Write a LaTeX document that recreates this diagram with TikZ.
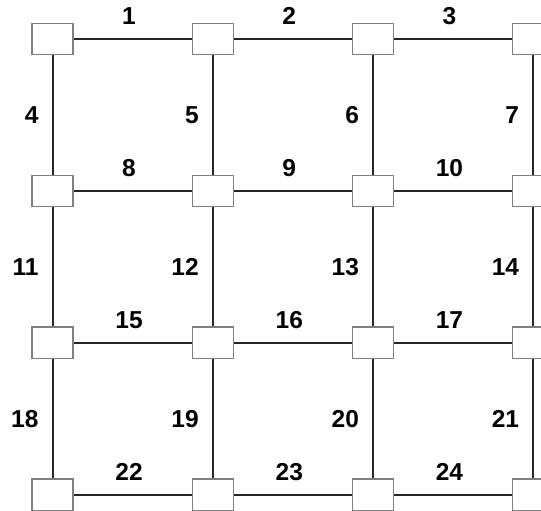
\documentclass[tikz,border=0pt]{standalone}
\usepackage{fontspec}
\setmainfont{Liberation Sans}
\usetikzlibrary{positioning}

\begin{document}
\begin{tikzpicture}[
    node distance=119.2pt and 118pt,
    cell/.style={rectangle, draw=black!50, line width=1.2pt, fill=white, minimum width=41pt, minimum height=31.5pt, inner sep=0pt},
    link/.style={draw=black!85, line width=2pt},
    hlab/.style={above=13pt, pos=0.47, inner sep=0pt, font=\fontsize{24.5}{28}\selectfont\bfseries},
    vlab/.style={left=13pt, inner sep=0pt, font=\fontsize{24.5}{28}\selectfont\bfseries}
]
\useasboundingbox (0,0) rectangle (541pt,-511pt);
\clip (0,0) rectangle (541pt,-511pt);

% Row 1
\node [cell] (a1) at (52.5pt,-39pt) {};
\node [cell, right=of a1] (a2) {};
\node [cell, right=of a2] (a3) {};
\node [cell, right=of a3] (a4) {};
% Row 2
\node [cell, below=of a1] (b1) {};
\node [cell, right=of b1] (b2) {};
\node [cell, right=of b2] (b3) {};
\node [cell, right=of b3] (b4) {};
% Row 3
\node [cell, below=of b1] (c1) {};
\node [cell, right=of c1] (c2) {};
\node [cell, right=of c2] (c3) {};
\node [cell, right=of c3] (c4) {};
% Row 4
\node [cell, below=of c1] (d1) {};
\node [cell, right=of d1] (d2) {};
\node [cell, right=of d2] (d3) {};
\node [cell, right=of d3] (d4) {};

% Horizontal links
\draw [link] (a1) -- node [hlab] {1} (a2);
\draw [link] (a2) -- node [hlab] {2} (a3);
\draw [link] (a3) -- node [hlab] {3} (a4);
\draw [link] (b1) -- node [hlab] {8} (b2);
\draw [link] (b2) -- node [hlab] {9} (b3);
\draw [link] (b3) -- node [hlab] {10} (b4);
\draw [link] (c1) -- node [hlab] {15} (c2);
\draw [link] (c2) -- node [hlab] {16} (c3);
\draw [link] (c3) -- node [hlab] {17} (c4);
\draw [link] (d1) -- node [hlab] {22} (d2);
\draw [link] (d2) -- node [hlab] {23} (d3);
\draw [link] (d3) -- node [hlab] {24} (d4);

% Vertical links
\draw [link] (a1) -- node [vlab] {4} (b1);
\draw [link] (a2) -- node [vlab] {5} (b2);
\draw [link] (a3) -- node [vlab] {6} (b3);
\draw [link] (a4) -- node [vlab] {7} (b4);
\draw [link] (b1) -- node [vlab] {11} (c1);
\draw [link] (b2) -- node [vlab] {12} (c2);
\draw [link] (b3) -- node [vlab] {13} (c3);
\draw [link] (b4) -- node [vlab] {14} (c4);
\draw [link] (c1) -- node [vlab] {18} (d1);
\draw [link] (c2) -- node [vlab] {19} (d2);
\draw [link] (c3) -- node [vlab] {20} (d3);
\draw [link] (c4) -- node [vlab] {21} (d4);

\end{tikzpicture}
\end{document}
